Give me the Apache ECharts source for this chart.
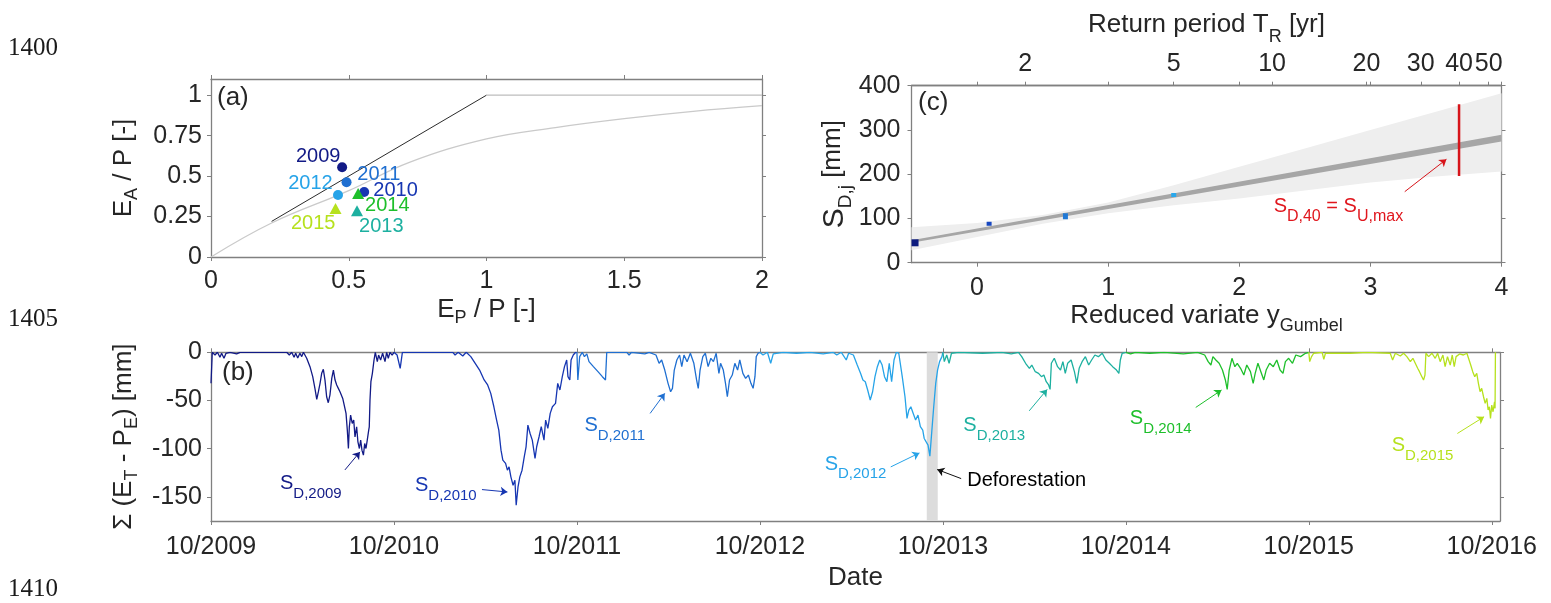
<!DOCTYPE html>
<html>
<head>
<meta charset="utf-8">
<script src="https://cdn.jsdelivr.net/npm/echarts@6/dist/echarts.min.js"></script>
<style>
  html, body { margin: 0; padding: 0; background: #fff; }
  #chart { width: 1551px; height: 603px; }
</style>
</head>
<body>
<div id="chart"></div>
<script>
// ---------- shared ----------
const years = ['2009', '2010', '2011', '2012', '2013', '2014', '2015'];
const yearColors = ['#121a86', '#1636b2', '#1f6fd1', '#26a3e8', '#1db0a0', '#1ebf2b', '#b6e11d'];

// ---------- panel (a): Budyko space ----------
const epTicks = [0, 0.5, 1, 1.5, 2];
const eaTicks = [0, 0.25, 0.5, 0.75, 1];
const epRatio = [0.476, 0.556, 0.492, 0.461, 0.530, 0.534, 0.452];
const eaRatio = [0.555, 0.402, 0.462, 0.383, 0.286, 0.393, 0.300];
const markerShapes = ['circle', 'circle', 'circle', 'circle', 'triangle', 'triangle', 'triangle'];
const yearLabelPos = [[0.389, 0.621], [0.670, 0.412], [0.609, 0.507], [0.361, 0.452], [0.618, 0.186], [0.640, 0.320], [0.371, 0.207]];
const budykoCurve = [[0, 0], [0.22, 0.21], [0.5, 0.41], [0.72, 0.585], [1, 0.73], [1.25, 0.80], [1.5, 0.855], [1.75, 0.90], [2, 0.935]];
const energyLimit = [[0.22, 0.22], [1, 1]];
const waterLimit = [[1, 1], [2, 1]];

// ---------- panel (c): Gumbel fit ----------
const sdTicks = [0, 100, 200, 300, 400];
const gumbelTicks = [0, 1, 2, 3, 4];
const returnPeriods = [2, 5, 10, 20, 30, 40, 50];
const annualMaxY = [-0.473, 0.092, 0.674, 1.50];
const annualMaxS = [45, 88, 105, 153];
const annualMaxColors = ['#0d1b7e', '#1747c0', '#1f78d5', '#2aa8ec'];
const annualMaxSize = [[7, 7], [5, 4], [5, 6], [5, 4]];
const bandY = [-0.5, 0, 0.5, 1, 1.5, 2, 2.5, 3, 3.5, 4];
const bandUpper = [80, 90, 108, 136, 175, 217, 258, 300, 341, 383];
const bandLower = [28, 58, 88, 112, 130, 145, 163, 181, 195, 206];
const fitY = [-0.5, 4];
const fitUpper = [51, 289];
const fitLower = [45, 274];
const sd40Span = [196, 358];
const sd40Arrow = [[3.262, 160.5], [3.58, 233.7]];
const sd40LabelPos = [2.262, 149.2];

// ---------- panel (b): cumulative deficit, years since 10/2009 ----------
const dateTicks = [0, 1, 2, 3, 4, 5, 6, 7];
const dateLabels = ['10/2009', '10/2010', '10/2011', '10/2012', '10/2013', '10/2014', '10/2015', '10/2016'];
const deficitTicks = [-150, -100, -50, 0];
const deficit2009 = [[0, -32.2], [0.007, 0], [0.022, -2.8], [0.035, 0], [0.049, -5.2], [0.058, -1], [0.071, -6.2], [0.082, -1], [0.104, 0], [0.14, -1.7], [0.159, 0], [0.414, 0], [0.428, -2.8], [0.441, 0], [0.454, -5.2], [0.463, -1], [0.474, -5.9], [0.486, -1], [0.496, -4.5], [0.505, 0], [0.523, -6.2], [0.541, -14.9], [0.556, -25.3], [0.568, -37.4], [0.578, -48.9], [0.587, -40.9], [0.596, -32.2], [0.605, -21.8], [0.614, -17.7], [0.623, -28.8], [0.632, -46.1], [0.641, -52.3], [0.65, -44.4], [0.66, -27], [0.669, -18.4], [0.678, -28.8], [0.687, -34], [0.696, -37.4], [0.705, -40.9], [0.72, -47.8], [0.729, -46.1], [0.738, -63.4], [0.745, -80.7], [0.751, -99.8], [0.756, -77.3], [0.763, -65.1], [0.772, -73.8], [0.78, -70.3], [0.787, -87.7], [0.796, -77.3], [0.803, -92.9], [0.811, -99.8], [0.818, -91.1], [0.825, -101.5], [0.833, -106.7], [0.84, -94.6], [0.847, -99.8], [0.854, -91.1], [0.862, -80.7], [0.865, -77.3], [0.869, -49.5], [0.874, -30.5], [0.882, -21.8], [0.891, -8], [0.898, 0], [0.909, -9.7], [0.916, -2.8], [0.927, -8], [0.938, -1], [0.951, -9.7], [0.96, 0], [0.969, -6.2], [0.978, 0], [0.99, -3], [1, 0]];
const deficit2010 = [[1, 0], [1.017, -2.8], [1.034, -16.6], [1.046, 0], [1.322, 0], [1.334, -2.8], [1.351, 0], [1.376, -3.8], [1.395, 0], [1.42, -4.5], [1.444, -11.4], [1.468, -18.4], [1.493, -28.7], [1.512, -33.9], [1.529, -42.6], [1.546, -56.5], [1.561, -70.3], [1.573, -80.7], [1.585, -101.5], [1.595, -111.9], [1.61, -115.3], [1.62, -122.3], [1.629, -118.8], [1.639, -129.2], [1.651, -137.9], [1.661, -132.7], [1.668, -158.6], [1.678, -139.6], [1.688, -129.2], [1.7, -122.3], [1.712, -108.4], [1.722, -98], [1.732, -75.5], [1.744, -84.2], [1.756, -91.1], [1.771, -110.1], [1.78, -98], [1.793, -87.6], [1.805, -77.2], [1.82, -91.1], [1.829, -70.3], [1.841, -79], [1.854, -63.4], [1.866, -56.5], [1.883, -53], [1.895, -32.2], [1.907, -39.1], [1.92, -25.3], [1.932, -14.9], [1.944, -8], [1.951, -25.3], [1.961, -28.7], [1.968, -8], [1.98, -2.8], [1.993, 0], [2, 0]];
const deficit2011 = [[2, 0], [2.005, -28.7], [2.015, -4.5], [2.029, 0], [2.041, -4.5], [2.054, -1.7], [2.066, -9.7], [2.09, -14.9], [2.115, -20.1], [2.139, -25.3], [2.156, -28.7], [2.163, 0], [2.273, 0], [2.285, -2.8], [2.298, 0], [2.371, -1.7], [2.395, 0], [2.432, -2.8], [2.449, -11.4], [2.463, -8], [2.48, -18.4], [2.498, -32.2], [2.512, -40.9], [2.522, -37.4], [2.532, -18.4], [2.546, -8], [2.561, -2.8], [2.573, -14.9], [2.585, -2.8], [2.602, -9.7], [2.62, -1], [2.639, -11.4], [2.654, -28.7], [2.663, -37.4], [2.673, -18.4], [2.688, -4.5], [2.702, -1], [2.717, -14.9], [2.732, -6.2], [2.746, -9.7], [2.761, -1], [2.776, -21.8], [2.785, -11.4], [2.8, -18.4], [2.812, -32.2], [2.822, -46.1], [2.834, -28.7], [2.849, -23.6], [2.863, -11.4], [2.878, -18.4], [2.89, -8], [2.907, -21.8], [2.922, -27], [2.937, -23.6], [2.951, -32.2], [2.963, -37.4], [2.973, -25.3], [2.98, -4.5], [2.99, -1], [3, 0]];
const deficit2012 = [[3, 0], [3.017, -2.8], [3.041, 0], [3.059, -11.4], [3.073, -1.7], [3.127, 0], [3.2, -1], [3.273, 0], [3.346, -1.7], [3.4, 0], [3.42, -2.8], [3.445, 0], [3.472, -8], [3.485, -1], [3.511, -2.8], [3.532, -13.2], [3.55, -21.8], [3.563, -28.7], [3.576, -30.5], [3.589, -39.1], [3.603, -49.5], [3.616, -40.9], [3.629, -25.3], [3.642, -14.9], [3.655, -8], [3.668, -13.2], [3.681, -25.3], [3.694, -30.5], [3.707, -11.4], [3.72, -30.5], [3.733, -8], [3.746, 0], [3.759, -1], [3.778, -25.3], [3.793, -46.1], [3.804, -68.6], [3.814, -59.9], [3.825, -56.5], [3.838, -63.4], [3.851, -70.3], [3.864, -65.1], [3.877, -77.2], [3.89, -80.7], [3.898, -89.4], [3.908, -87.6], [3.919, -96.3], [3.929, -107.7], [3.94, -80.7], [3.95, -56.5], [3.961, -32.2], [3.971, -18.4], [3.982, -9.7], [3.995, -4.5], [4, 0]];
const deficit2013 = [[4, 0], [4.008, -9.7], [4.021, -2.8], [4.034, -11.4], [4.047, -1], [4.086, 0], [4.217, -1], [4.322, 0], [4.374, -1.7], [4.413, 0], [4.431, -4.5], [4.452, -11.4], [4.473, -16.6], [4.486, -13.2], [4.505, -20.1], [4.523, -21.8], [4.539, -25.3], [4.552, -23.6], [4.565, -30.5], [4.578, -33.9], [4.586, -38.5], [4.593, -11.4], [4.609, -6.2], [4.627, -14.9], [4.643, -18.4], [4.656, -9.7], [4.669, -21.8], [4.682, -11.4], [4.701, -8], [4.719, -20.1], [4.732, -32.2], [4.745, -16.6], [4.761, -9.7], [4.779, -4.5], [4.797, -13.2], [4.813, -8], [4.831, -2.8], [4.85, -4.5], [4.871, -1], [4.891, -8], [4.91, -11.4], [4.928, -14.9], [4.949, -18.4], [4.962, -21.8], [4.97, -8], [4.98, -1], [5, 0]];
const deficit2014 = [[5, 0], [5.026, -1.7], [5.052, 0], [5.131, -1], [5.209, 0], [5.314, -1.7], [5.392, 0], [5.431, -2.8], [5.45, -9.7], [5.465, -13.2], [5.476, -4.5], [5.492, -8], [5.51, -11.4], [5.528, -18.4], [5.544, -28.7], [5.554, -38.5], [5.565, -18.4], [5.58, -6.2], [5.596, -14.9], [5.609, -11.4], [5.627, -16.6], [5.645, -23.6], [5.661, -13.2], [5.681, -20.1], [5.696, -32.2], [5.707, -21.8], [5.722, -11.4], [5.738, -20.1], [5.754, -28.7], [5.767, -18.4], [5.786, -11.4], [5.806, -14.9], [5.825, -8], [5.843, -18.4], [5.859, -21.8], [5.872, -9.7], [5.89, -6.2], [5.911, -11.4], [5.929, -2.8], [5.955, -4.5], [5.982, -1], [6, 0]];
const deficit2015 = [[6, 0], [6.005, -9.7], [6.015, -4.5], [6.027, -1], [6.073, 0], [6.082, -7.3], [6.091, -1], [6.227, -1], [6.318, 0], [6.445, -1], [6.458, -8], [6.473, -1], [6.5, -3.8], [6.518, -1], [6.536, -4.5], [6.555, -9.7], [6.569, -6.2], [6.582, -11.4], [6.595, -16.6], [6.605, -20.1], [6.618, -25.3], [6.627, -28.8], [6.635, -23.6], [6.64, -1], [6.655, -4.5], [6.673, -1], [6.691, -6.2], [6.704, -1], [6.718, -9.7], [6.733, -2.8], [6.745, -14.9], [6.758, -4.5], [6.773, -13.2], [6.784, -2.8], [6.795, -14.9], [6.805, -4.5], [6.824, -1.7], [6.845, -2.8], [6.864, -1], [6.873, -6.2], [6.885, -13.2], [6.896, -20.1], [6.907, -25.3], [6.918, -21.8], [6.927, -32.2], [6.936, -40.9], [6.945, -37.4], [6.955, -46.1], [6.964, -53], [6.973, -47.8], [6.98, -59.9], [6.987, -56.5], [6.993, -68.6], [7, -54.7], [7.007, -61.7], [7.015, -51.3], [7.018, -58.2], [7.02, 0]];
const deficitByYear = [deficit2009, deficit2010, deficit2011, deficit2012, deficit2013, deficit2014, deficit2015];
// arrow tail -> tip and label anchor (top-left of "S")
const sdArrows = [[[0.732, -122], [0.814, -103.3]], [[1.481, -142.4], [1.62, -144.9]], [[2.4, -63.4], [2.48, -42.6]], [[3.715, -118.9], [3.872, -104.4]], [[4.472, -60.7], [4.57, -38.5]], [[5.382, -57.2], [5.523, -39.2]], [[6.812, -84.2], [6.958, -66.9]]];
const sdLabelPos = [[0.377, -126], [1.115, -128.1], [2.041, -65.7], [3.354, -105.5], [4.112, -65.7], [5.022, -58.7], [6.453, -86.5]];
const deforestSpan = [3.912, 3.972];
const deforestArrow = [[4.1, -131], [3.969, -121.6]];
const deforestLabelPos = [4.133, -132.7];

// ---------- styling helpers ----------
const FONT = '"Liberation Sans", Arial, Helvetica, sans-serif';
const INK = '#262626';
const BOX = '#808080';
const NOSYM = { color: 'rgba(0,0,0,0)', opacity: 1 };

function gumbelY(T) { return -Math.log(-Math.log(1 - 1 / T)); }

function richName(fs, sfs, off, big) {
  const rich = {
    m: { fontSize: fs, fontFamily: FONT, verticalAlign: 'top' },
    s: { fontSize: sfs, fontFamily: FONT, verticalAlign: 'top', padding: [off + ((big || fs) - sfs) / 2, 0, 0, 0] }
  };
  if (big) rich.b = { fontSize: big, fontFamily: FONT, verticalAlign: 'top' };
  return { color: INK, fontFamily: FONT, fontSize: fs, rich: rich };
}

function mkAxis(o) {
  const a = {
    type: 'value', gridIndex: o.grid, position: o.pos, min: o.min, max: o.max,
    splitLine: { show: false },
    axisLine: { show: true, onZero: false, lineStyle: { color: BOX, width: 1.3 } },
    axisTick: { show: true, inside: false, length: 4, customValues: o.ticks, lineStyle: { color: BOX, width: 1 } },
    axisLabel: { show: !!o.fmt, customValues: o.ticks, margin: o.margin || 8, color: INK, fontFamily: FONT, fontSize: 25, formatter: o.fmt }
  };
  if (o.name) {
    a.name = o.name;
    a.nameLocation = 'middle';
    a.nameGap = o.gap;
    a.nameTextStyle = o.nameStyle;
    if (o.noMove) a.nameMoveOverlap = false;
  }
  return a;
}

function bandSeries(xIdx, yIdx, xs, lower, upper, color, z) {
  return {
    type: 'custom', xAxisIndex: xIdx, yAxisIndex: yIdx, silent: true, z: z,
    data: [[xs[0], lower[0]]],
    renderItem: function (params, api) {
      const pts = xs.map((x, i) => api.coord([x, upper[i]]));
      for (let i = xs.length - 1; i >= 0; i--) pts.push(api.coord([xs[i], lower[i]]));
      return { type: 'polygon', shape: { points: pts }, style: { fill: color } };
    }
  };
}

const subRich = {
  m: { fontSize: 20, fontFamily: FONT, verticalAlign: 'top' },
  s: { fontSize: 15, fontFamily: FONT, verticalAlign: 'top', padding: [12.5, 0, 0, 0] }
};

// ---------- option ----------
const xAxes = [
  mkAxis({ grid: 0, pos: 'bottom', min: 0, max: 2, ticks: epTicks, fmt: v => String(v), margin: 12,
    name: '{m|E}{s|P}{m| / P [-]}', gap: 40, nameStyle: richName(26, 18, 8) }),
  mkAxis({ grid: 0, pos: 'top', min: 0, max: 2, ticks: epTicks }),
  mkAxis({ grid: 1, pos: 'bottom', min: -0.5, max: 4, ticks: gumbelTicks, fmt: v => String(v), margin: 13,
    name: '{m|Reduced variate y}{s|Gumbel}', gap: 40, nameStyle: richName(26, 18, 10) }),
  mkAxis({ grid: 1, pos: 'top', min: -0.5, max: 4, ticks: returnPeriods.map(gumbelY), margin: 9,
    fmt: v => { const T = returnPeriods.find(t => Math.abs(gumbelY(t) - v) < 1e-6); return T === undefined ? '' : String(T); },
    name: '{m|Return period T}{s|R}{m| [yr]}', gap: 40, nameStyle: richName(26, 18, 12) }),
  mkAxis({ grid: 1, pos: 'top', min: -0.5, max: 4, ticks: gumbelTicks }),
  mkAxis({ grid: 2, pos: 'bottom', min: 0, max: 7.045, ticks: dateTicks, fmt: v => dateLabels[Math.round(v)] || '', margin: 14,
    name: 'Date', gap: 44, nameStyle: { color: INK, fontFamily: FONT, fontSize: 26 } }),
  mkAxis({ grid: 2, pos: 'top', min: 0, max: 7.045, ticks: dateTicks })
];

const yAxes = [
  mkAxis({ grid: 0, pos: 'left', min: 0, max: 1.1, ticks: eaTicks, fmt: v => String(v), margin: 9,
    name: '{m|E}{s|A}{m| / P [-]}', gap: 70, nameStyle: richName(26, 18, 8) }),
  mkAxis({ grid: 0, pos: 'right', min: 0, max: 1.1, ticks: eaTicks }),
  mkAxis({ grid: 1, pos: 'left', min: 0, max: 400, ticks: sdTicks, fmt: v => String(v), margin: 11,
    name: '{b|S}{s|D,j}{m| [mm]}', gap: 53, nameStyle: richName(26, 19, 11, 30) }),
  mkAxis({ grid: 1, pos: 'right', min: 0, max: 400, ticks: sdTicks }),
  mkAxis({ grid: 2, pos: 'left', min: -175, max: 0, ticks: deficitTicks, fmt: v => String(v), margin: 9,
    name: '{m|Σ (E}{s|T}{m| - P}{s|E}{m|) [mm]}', gap: 70, noMove: true, nameStyle: richName(26, 18, 8) }),
  mkAxis({ grid: 2, pos: 'right', min: -175, max: 0, ticks: deficitTicks })
];

const series = [];

// panel (a)
series.push({ type: 'line', xAxisIndex: 0, yAxisIndex: 0, data: budykoCurve, smooth: 0.4, symbol: 'none', silent: true,
  lineStyle: { color: '#cacaca', width: 1.3 }, z: 2 });
series.push({ type: 'line', xAxisIndex: 0, yAxisIndex: 0, data: energyLimit, symbol: 'none', silent: true,
  lineStyle: { color: '#2b2b2b', width: 1 }, z: 3 });
series.push({ type: 'line', xAxisIndex: 0, yAxisIndex: 0, data: waterLimit, symbol: 'none', silent: true,
  lineStyle: { color: '#bdbdbd', width: 1.3 }, z: 3 });
series.push({ type: 'scatter', xAxisIndex: 0, yAxisIndex: 0, z: 5, silent: true,
  data: years.map((y, i) => ({
    value: [epRatio[i], eaRatio[i]], symbol: markerShapes[i],
    symbolSize: markerShapes[i] === 'triangle' ? [12, 11] : 10,
    itemStyle: { color: yearColors[i], opacity: 1 }
  }))
});
series.push({ type: 'scatter', xAxisIndex: 0, yAxisIndex: 0, z: 6, silent: true, symbolSize: 1,
  itemStyle: NOSYM,
  data: years.map((y, i) => ({
    value: yearLabelPos[i],
    label: { show: true, position: 'inside', formatter: y, color: yearColors[i], fontFamily: FONT, fontSize: 20 }
  }))
});

// panel (c)
series.push(bandSeries(2, 2, bandY, bandLower, bandUpper, '#eeeeee', 1));
series.push(bandSeries(2, 2, fitY, fitLower, fitUpper, '#a6a6a6', 2));
series.push({ type: 'scatter', xAxisIndex: 2, yAxisIndex: 2, z: 5, silent: true, symbol: 'rect',
  data: annualMaxY.map((y, i) => ({ value: [y, annualMaxS[i]], symbolSize: annualMaxSize[i], itemStyle: { color: annualMaxColors[i], opacity: 1 } }))
});
series.push({ type: 'line', xAxisIndex: 2, yAxisIndex: 2, z: 6, silent: true, symbol: 'none',
  data: sd40Span.map(s => [gumbelY(40), s]),
  lineStyle: { color: '#d7141a', width: 2.5 },
  markLine: { silent: true, symbol: ['none', 'arrow'], symbolSize: 7, animation: false,
    lineStyle: { color: '#d7141a', width: 1, type: 'solid' }, label: { show: false },
    data: [[{ coord: sd40Arrow[0] }, { coord: sd40Arrow[1] }]] }
});
series.push({ type: 'scatter', xAxisIndex: 2, yAxisIndex: 2, z: 7, silent: true, symbolSize: 1,
  itemStyle: NOSYM,
  data: [{ value: sd40LabelPos,
    label: { show: true, position: 'inside', align: 'left', verticalAlign: 'top', color: '#e0161d',
      formatter: '{m|S}{s|D,40}{m| = S}{s|U,max}',
      rich: { m: { fontSize: 20, fontFamily: FONT, verticalAlign: 'top' },
              s: { fontSize: 16, fontFamily: FONT, verticalAlign: 'top', padding: [12, 0, 0, 0] } } } }]
});

// panel (b)
deficitByYear.forEach((d, i) => {
  const s = { type: 'line', xAxisIndex: 5, yAxisIndex: 4, data: d, symbol: 'none', silent: true, z: 4,
    lineStyle: { color: yearColors[i], width: 1.3 },
    markLine: { silent: true, symbol: ['none', 'arrow'], symbolSize: 7, animation: false,
      lineStyle: { color: yearColors[i], width: 1, type: 'solid' }, label: { show: false },
      data: [[{ coord: sdArrows[i][0] }, { coord: sdArrows[i][1] }]] }
  };
  if (years[i] === '2012') {
    s.markArea = { silent: true, itemStyle: { color: '#dcdcdc' },
      data: [[{ xAxis: deforestSpan[0] }, { xAxis: deforestSpan[1] }]] };
  }
  series.push(s);
});
series.push({ type: 'line', xAxisIndex: 5, yAxisIndex: 4, data: [], silent: true,
  markLine: { silent: true, symbol: ['none', 'arrow'], symbolSize: 7, animation: false,
    lineStyle: { color: '#111111', width: 1, type: 'solid' }, label: { show: false },
    data: [[{ coord: deforestArrow[0] }, { coord: deforestArrow[1] }]] }
});
series.push({ type: 'scatter', xAxisIndex: 5, yAxisIndex: 4, z: 7, silent: true, symbolSize: 1,
  itemStyle: NOSYM,
  data: years.map((y, i) => ({
    value: sdLabelPos[i],
    label: { show: true, position: 'inside', align: 'left', verticalAlign: 'top', color: yearColors[i],
      formatter: '{m|S}{s|D,' + y + '}', rich: subRich }
  })).concat([{
    value: deforestLabelPos,
    label: { show: true, position: 'inside', align: 'left', verticalAlign: 'middle', color: '#000000',
      formatter: 'Deforestation', fontFamily: FONT, fontSize: 20 }
  }])
});

const serif = '25px "Liberation Serif", "Times New Roman", serif';
const letter = '26px ' + FONT;

const option = {
  animation: false,
  backgroundColor: '#ffffff',
  textStyle: { fontFamily: FONT },
  grid: [
    { left: 211, top: 79, width: 551, height: 178, outerBoundsMode: 'none' },
    { left: 911.5, top: 85.7, width: 590, height: 177, outerBoundsMode: 'none' },
    { left: 211, top: 352.3, width: 1289, height: 168.7, outerBoundsMode: 'none' }
  ],
  xAxis: xAxes,
  yAxis: yAxes,
  series: series,
  graphic: [
    { type: 'text', left: 8, top: 36, style: { text: '1400', font: serif, fill: '#1a1a1a' } },
    { type: 'text', left: 8, top: 307, style: { text: '1405', font: serif, fill: '#1a1a1a' } },
    { type: 'text', left: 8, top: 577, style: { text: '1410', font: serif, fill: '#1a1a1a' } },
    { type: 'text', left: 217, top: 85, style: { text: '(a)', font: letter, fill: INK } },
    { type: 'text', left: 918, top: 90, style: { text: '(c)', font: letter, fill: INK } },
    { type: 'text', left: 222, top: 360, style: { text: '(b)', font: letter, fill: INK } }
  ]
};

const chart = echarts.init(document.getElementById('chart'));
chart.setOption(option);
</script>
</body>
</html>
